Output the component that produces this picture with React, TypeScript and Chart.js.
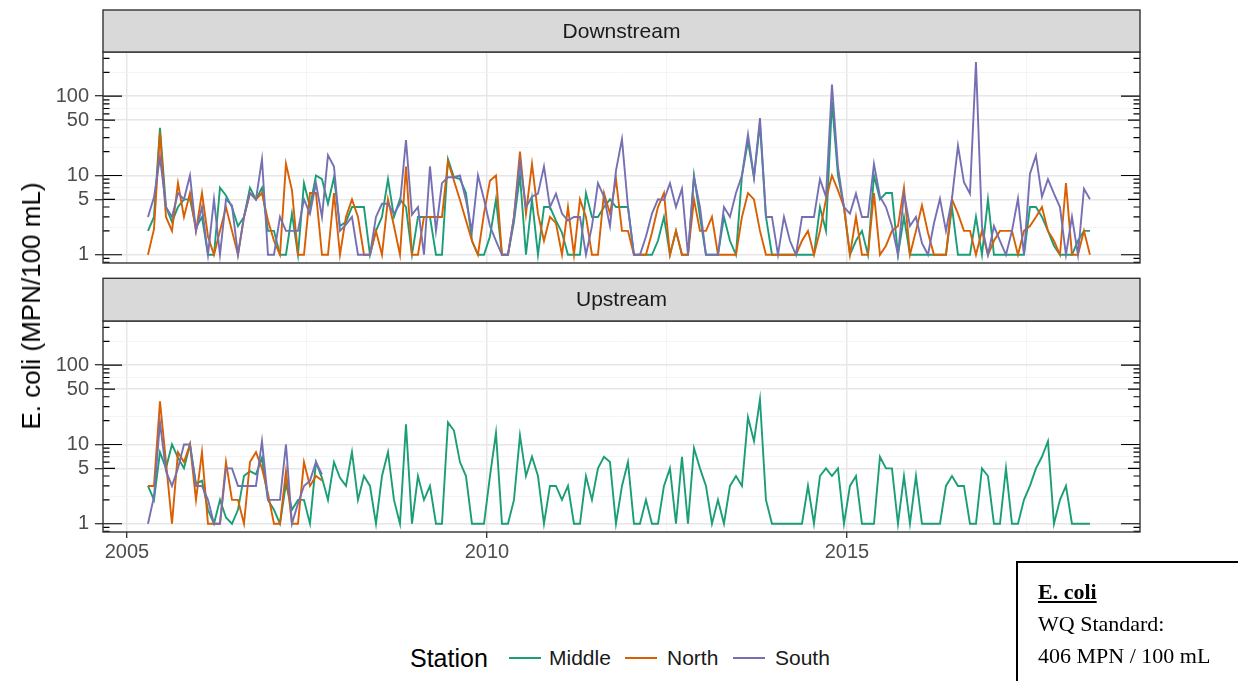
import React, { useEffect, useRef } from "react";
import { Chart, registerables } from "chart.js";

Chart.register(...registerables);

// ---------- data ----------
const START_YEAR = 2005;
const START_MONTH = 4; // April 2005
const N_MONTHS = 158;
const MONTHS: number[] = Array.from({ length: N_MONTHS }, (_, i) => START_YEAR + (START_MONTH - 1 + i + 0.5) / 12);

const STATIONS = ["Middle", "North", "South"];
const COLORS = ["#1B9E77", "#D95F02", "#7570B3"];

const DOWN_MIDDLE = [
  2, 3, 40, 4, 2.6, 4, 5, 5, 2.2, 3,
  1, 1, 7, 5.6, 4, 2.3, 3, 7, 5, 7,
  2, 2, 1, 1, 3.3, 1, 8, 4, 10, 9,
  4.4, 9.5, 2.3, 2.6, 4, 4, 4, 1, 2, 3,
  9, 3, 5, 4, 1, 3, 3, 3, 1, 1,
  16, 9.5, 9, 6, 1.5, 1, 1, 1.7, 5, 1,
  1, 2.6, 10, 1, 5, 1, 4, 4, 2.7, 1.9,
  1, 1, 1, 6, 3, 3, 4, 5, 4, 4,
  4, 1, 1, 1, 1, 1.5, 3, 1, 2, 1,
  1, 10, 3, 1, 1, 1, 3, 1.5, 1, 10,
  27, 9.5, 44, 3, 1, 1, 1, 1, 1, 1,
  1, 1, 4, 2, 85, 10, 4, 1, 1.5, 2,
  1, 10, 5, 6, 6, 1, 3, 1, 1, 1,
  1, 1, 1, 1, 4, 1, 1, 1, 3, 1,
  5, 1, 1, 1, 1, 1, 1, 4, 4, 3,
  2, 1.3, 1, 1, 1, 1.5, 2, 2,
];
const DOWN_NORTH = [
  1, 2.1, 35, 3, 2, 8, 3, 6, 2, 6,
  1.7, 1, 2, 4, 2, 1, 3, 6, 5, 6,
  2.7, 1.5, 1, 14, 6.5, 1, 1, 6, 6, 1,
  1, 6, 1, 3, 5, 3, 1, 1, 2, 1,
  5, 2.3, 1, 13, 1, 1, 3, 3, 3, 3,
  15, 8.6, 4.9, 2.7, 1.5, 1, 3.3, 8.6, 10, 1,
  1, 3, 20, 3.3, 14, 3.3, 1.5, 3, 2.5, 1,
  4, 1, 5, 3, 1, 1, 6, 3.3, 9, 2,
  2, 1, 1, 1, 1.9, 4, 6, 1, 2, 1,
  1, 5, 2, 2, 3, 1, 1, 1, 1, 3,
  6, 5, 2, 1, 1, 1, 1, 1, 1, 1.5,
  2, 1, 2, 5, 10, 6.5, 4, 1, 3, 1,
  1, 6, 1, 1.3, 2, 2.3, 7, 1, 2, 4.2,
  1.9, 1, 1, 1, 5, 3.3, 2, 2, 1, 2,
  1, 1.5, 2, 2, 2, 1, 2, 2.3, 3, 4,
  2, 1.5, 1, 8, 1, 1, 2, 1,
];
const DOWN_SOUTH = [
  3, 5.3, 17, 4, 3, 6, 5, 10, 2, 4,
  1, 5, 1, 5, 4.2, 1, 3, 6, 5, 16,
  1, 1, 3, 2, 2, 2, 5, 3.3, 8, 3,
  18, 13, 2, 2.4, 3, 1, 1, 1, 3, 4.4,
  4.4, 3.3, 4.4, 28, 3.2, 4, 1, 13, 2, 8,
  9.5, 9.5, 10, 4.9, 2, 10, 5, 2.3, 1.5, 1,
  1, 3, 15, 4, 5.4, 5.9, 13, 4, 5.9, 3.3,
  2.7, 3, 3, 1, 2.3, 8, 5.4, 2.3, 11.5, 28.7,
  4, 1, 1, 1.7, 3.3, 5, 4.9, 8, 4, 6.8,
  1, 9.5, 4, 1, 1, 1, 4, 3, 6, 10,
  33, 9.5, 53, 3, 3, 1, 3, 1.5, 1, 3,
  3, 3, 9, 5.4, 140, 12.7, 4, 3.3, 5.9, 3,
  3, 14, 5.4, 4, 2.3, 1, 5.9, 2.3, 3, 1.4,
  1, 2.5, 5.1, 2, 5.1, 23.7, 8.2, 5.9, 270, 2.3,
  1, 2.3, 1.5, 1, 2, 5.1, 1, 10.5, 17.8, 5.4,
  9, 5.9, 4, 1, 3, 1, 6.8, 5,
];

const UP_MIDDLE = [
  3, 2, 8, 5, 10, 6.8, 5, 10, 3.2, 3.5,
  1.5, 1, 2, 1.2, 1, 1.5, 4, 4.6, 4.2, 6.8,
  2, 1.5, 1, 3.2, 1.5, 2, 2, 1, 6, 3.8,
  2, 6, 3.8, 3, 8, 2, 4, 3, 1, 4,
  8, 2, 1, 18, 1, 4, 2, 3, 1, 1,
  19, 15, 6, 4, 1, 1, 1, 4, 14, 1,
  1, 2, 13, 4, 7, 4, 1, 3, 3, 2,
  3, 1, 1, 4, 2, 5, 7, 6, 1, 3,
  6, 1, 1, 2, 1, 1, 3, 5, 1, 7,
  1, 9, 5, 3, 1, 2, 1, 3, 4, 3,
  22, 11, 37, 2, 1, 1, 1, 1, 1, 1,
  3, 1, 4, 5, 4, 5, 1, 3, 4, 1,
  1, 1, 7, 5, 5, 1, 4, 1, 4, 1,
  1, 1, 1, 3, 4, 3, 3, 1, 1, 5,
  4, 1, 1, 5, 1, 1, 2, 3, 5, 7,
  11, 1, 2, 3, 1, 1, 1, 1,
];
const UP_NORTH = [
  3, 3, 35, 6, 1, 8, 6, 10, 2, 8,
  1, 1, 1, 6, 2, 2, 1, 6, 8, 5,
  2.4, 1, 1, 4.6, 1, 1, 6, 3, 4, 3.5,
];
const UP_SOUTH = [
  1, 2.2, 19, 4.6, 3, 5, 10, 10, 3, 3,
  2, 1, 1, 5, 5, 3, 3, 3, 3, 11,
  2, 2, 2, 10, 1, 1.8, 3, 3.5, 6, 4.2,
];

const X_MIN = 2004.667;
const X_MAX = 2019.07;
const X_MAJOR = [2005, 2010, 2015];
const X_MINOR = [2007.5, 2012.5, 2017.5];
const Y_MIN = 0.787;
const Y_MAX = 361;
const Y_MAJOR = [1, 5, 10, 50, 100];
const Y_MINOR = [2.236, 7.071, 22.36, 70.71, 200];
const LOGTICK_MANTISSAS = [1, 2, 3, 4, 5, 6, 7, 8, 9];
const LOGTICK_DECADES = [0.1, 1, 10, 100];

const FONT = '"Liberation Sans", Arial, sans-serif';

function makePanelPlugin(label: string, stripTop: number) {
  return {
    id: "panelDeco",
    beforeDraw(chart: any) {
      const { ctx, chartArea: a } = chart;
      ctx.save();
      ctx.fillStyle = "#ffffff";
      ctx.fillRect(a.left, a.top, a.right - a.left, a.bottom - a.top);
      ctx.restore();
    },
    afterDraw(chart: any) {
      const { ctx, chartArea: a } = chart;
      const ys = chart.scales.y;
      ctx.save();
      // log ticks inside the panel (left and right)
      ctx.strokeStyle = "#000";
      ctx.lineWidth = 1.2;
      for (const d of LOGTICK_DECADES) {
        for (const m of LOGTICK_MANTISSAS) {
          const v = m * d;
          const py = ys.getPixelForValue(v);
          if (py < a.top + 0.5 || py > a.bottom - 0.5) continue;
          const len = m === 1 ? 19 : m === 5 ? 12 : 6.5;
          ctx.beginPath();
          ctx.moveTo(a.left, py);
          ctx.lineTo(a.left + len, py);
          ctx.moveTo(a.right, py);
          ctx.lineTo(a.right - len, py);
          ctx.stroke();
        }
      }
      // panel border
      ctx.strokeStyle = "#333333";
      ctx.lineWidth = 1.4;
      ctx.strokeRect(a.left, a.top, a.right - a.left, a.bottom - a.top);
      // strip
      ctx.fillStyle = "#d9d9d9";
      ctx.fillRect(a.left, stripTop, a.right - a.left, a.top - stripTop);
      ctx.strokeRect(a.left, stripTop, a.right - a.left, a.top - stripTop);
      ctx.fillStyle = "#1a1a1a";
      ctx.font = `21px ${FONT}`;
      ctx.textAlign = "center";
      ctx.textBaseline = "middle";
      ctx.fillText(label, (a.left + a.right) / 2, (stripTop + a.top) / 2 + 1);
      ctx.restore();
    },
  };
}

function makeDatasets(series: number[][]) {
  return series.map((vals, k) => ({
    label: STATIONS[k],
    data: vals.map((v, i) => ({ x: MONTHS[i], y: v })),
    borderColor: COLORS[k],
    backgroundColor: COLORS[k],
    borderWidth: 1.9,
    pointRadius: 0,
    tension: 0,
    fill: false,
    order: 3 - k,
  }));
}

function makeOptions(bottom: boolean, padTop: number, padBottom: number): any {
  return {
    animation: false,
    responsive: false,
    maintainAspectRatio: false,
    events: [],
    layout: { padding: { top: padTop, bottom: padBottom, left: 0, right: 98 } },
    plugins: { legend: { display: false }, tooltip: { enabled: false } },
    scales: {
      x: {
        type: "linear",
        min: X_MIN,
        max: X_MAX,
        afterBuildTicks: (s: any) => {
          s.ticks = [...X_MAJOR, ...X_MINOR].sort((p, q) => p - q).map((v) => ({ value: v }));
        },
        afterFit: (s: any) => {
          s.height = bottom ? 40 : 0;
          s.paddingLeft = 0;
          s.paddingRight = 0;
        },
        ticks: {
          display: bottom,
          autoSkip: false,
          maxRotation: 0,
          padding: 2,
          color: "#4d4d4d",
          font: { family: FONT, size: 20 },
          callback: (v: number) => (X_MAJOR.includes(v) ? String(v) : ""),
        },
        grid: {
          color: (c: any) => (X_MAJOR.includes(c.tick?.value) ? "#e6e6e6" : "#f1f1f1"),
          lineWidth: (c: any) => (X_MAJOR.includes(c.tick?.value) ? 1.4 : 0.8),
          drawTicks: bottom,
          tickLength: 6,
          tickWidth: 1.3,
          tickColor: (c: any) => (X_MAJOR.includes(c.tick?.value) ? "#333333" : "rgba(0,0,0,0)"),
        },
        border: { display: false },
      },
      y: {
        type: "logarithmic",
        min: Y_MIN,
        max: Y_MAX,
        afterBuildTicks: (s: any) => {
          s.ticks = [...Y_MAJOR, ...Y_MINOR].sort((p, q) => p - q).map((v) => ({ value: v }));
        },
        afterFit: (s: any) => {
          s.width = 103;
          s.paddingTop = 0;
          s.paddingBottom = 0;
        },
        ticks: {
          autoSkip: false,
          padding: 6,
          color: "#4d4d4d",
          font: { family: FONT, size: 20 },
          callback: (v: number) => (Y_MAJOR.includes(v) ? String(v) : ""),
        },
        grid: {
          color: (c: any) => (Y_MAJOR.includes(c.tick?.value) ? "#e6e6e6" : "#f1f1f1"),
          lineWidth: (c: any) => (Y_MAJOR.includes(c.tick?.value) ? 1.4 : 0.8),
          drawTicks: true,
          tickLength: 8,
          tickWidth: 1.3,
          tickColor: (c: any) => (Y_MAJOR.includes(c.tick?.value) ? "#333333" : "rgba(0,0,0,0)"),
        },
        border: { display: false },
      },
    },
  };
}

export default function App() {
  const topRef = useRef<HTMLCanvasElement | null>(null);
  const botRef = useRef<HTMLCanvasElement | null>(null);

  useEffect(() => {
    Chart.defaults.font.family = FONT;
    const c1 = new Chart(topRef.current as HTMLCanvasElement, {
      type: "line",
      data: { datasets: makeDatasets([DOWN_MIDDLE, DOWN_NORTH, DOWN_SOUTH]) as any },
      options: makeOptions(false, 52, 7),
      plugins: [makePanelPlugin("Downstream", 10)],
    });
    const c2 = new Chart(botRef.current as HTMLCanvasElement, {
      type: "line",
      data: { datasets: makeDatasets([UP_MIDDLE, UP_NORTH, UP_SOUTH]) as any },
      options: makeOptions(true, 51, 28),
      plugins: [makePanelPlugin("Upstream", 8.3)],
    });
    return () => {
      c1.destroy();
      c2.destroy();
    };
  }, []);

  const legendItems = [
    { key: 509, text: 549 },
    { key: 625, text: 667 },
    { key: 733, text: 775 },
  ];

  return (
    <div
      style={{
        position: "fixed",
        left: 0,
        top: 0,
        width: 1238,
        height: 681,
        background: "#ffffff",
        overflow: "hidden",
        fontFamily: FONT,
      }}
    >
      <canvas ref={topRef} width={1238} height={270} style={{ position: "absolute", left: 0, top: 0, width: 1238, height: 270 }} />
      <canvas ref={botRef} width={1238} height={330} style={{ position: "absolute", left: 0, top: 270, width: 1238, height: 330 }} />

      <div
        style={{
          position: "absolute",
          left: 31,
          top: 306,
          transform: "translate(-50%, -50%) rotate(-90deg)",
          whiteSpace: "nowrap",
          fontSize: 26,
          color: "#000",
          lineHeight: "30px",
        }}
      >
        E. coli (MPN/100 mL)
      </div>

      <div style={{ position: "absolute", left: 410, top: 643, fontSize: 25, lineHeight: "30px", color: "#000" }}>Station</div>
      {legendItems.map((it, k) => (
        <React.Fragment key={k}>
          <div style={{ position: "absolute", left: it.key, top: 657, width: 32, height: 2, background: COLORS[k] }} />
          <div style={{ position: "absolute", left: it.text, top: 645, fontSize: 21, lineHeight: "26px", color: "#1a1a1a" }}>
            {STATIONS[k]}
          </div>
        </React.Fragment>
      ))}

      <div
        style={{
          position: "absolute",
          left: 1016,
          top: 561,
          width: 240,
          height: 140,
          borderTop: "2px solid #000",
          borderLeft: "2px solid #000",
          fontFamily: '"Liberation Serif", "DejaVu Serif", serif',
          fontSize: 22,
          color: "#000",
        }}
      >
        <div style={{ position: "absolute", left: 20, top: 16, lineHeight: "26px", fontWeight: "bold", textDecoration: "underline" }}>E. coli</div>
        <div style={{ position: "absolute", left: 20, top: 48, lineHeight: "26px" }}>WQ Standard:</div>
        <div style={{ position: "absolute", left: 20, top: 80, lineHeight: "26px" }}>406 MPN / 100 mL</div>
      </div>
    </div>
  );
}
